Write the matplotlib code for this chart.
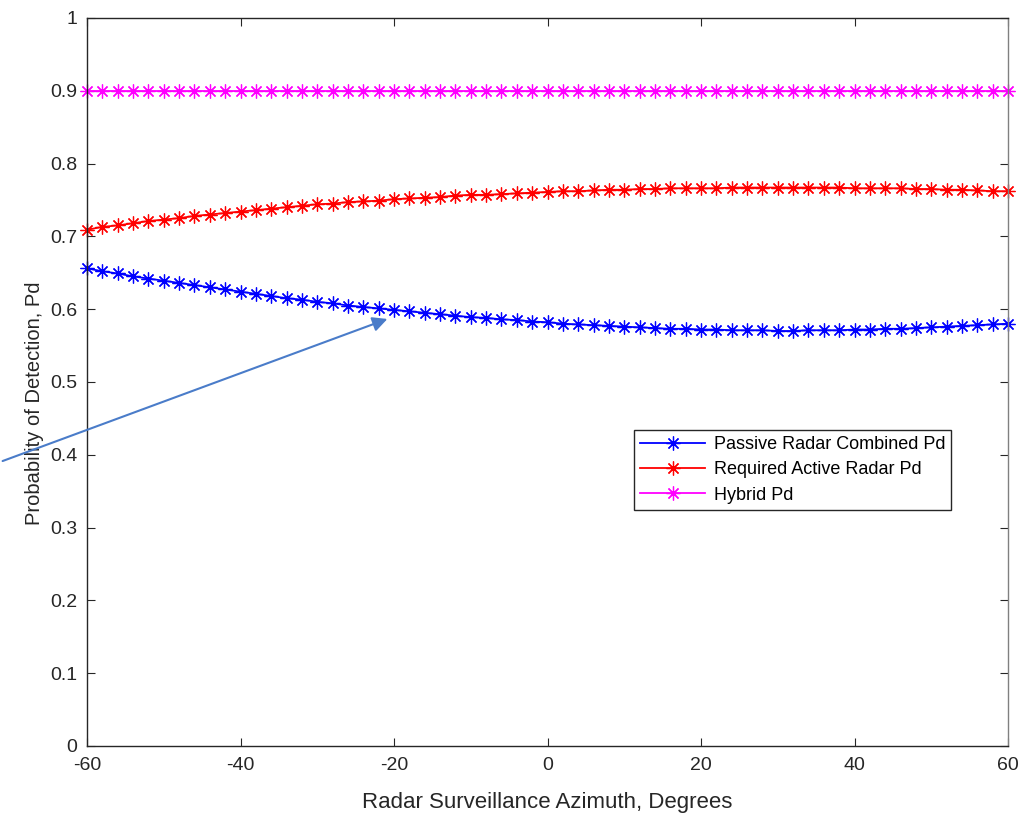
import numpy as np
import matplotlib
matplotlib.use("Agg")
from matplotlib import pyplot as plt

plt.rcParams['font.family'] = ['Liberation Sans', 'DejaVu Sans']
plt.rcParams['axes.unicode_minus'] = False

azimuth = list(range(-60, 61, 2))

passive_pd = [0.656, 0.652, 0.649, 0.645, 0.642, 0.639, 0.636, 0.633, 0.630, 0.627,
              0.624, 0.621, 0.618, 0.615, 0.613, 0.610, 0.608, 0.605, 0.603, 0.601,
              0.599, 0.597, 0.595, 0.593, 0.591, 0.589, 0.588, 0.586, 0.585, 0.583,
              0.582, 0.580, 0.579, 0.578, 0.577, 0.576, 0.575, 0.574, 0.573, 0.573,
              0.572, 0.572, 0.571, 0.571, 0.571, 0.570, 0.570, 0.571, 0.571, 0.571,
              0.572, 0.572, 0.573, 0.573, 0.574, 0.575, 0.576, 0.577, 0.578, 0.579,
              0.580]

active_pd = [0.709, 0.713, 0.715, 0.718, 0.721, 0.723, 0.725, 0.728, 0.730, 0.732,
             0.734, 0.736, 0.738, 0.740, 0.742, 0.744, 0.745, 0.747, 0.748, 0.749,
             0.751, 0.752, 0.753, 0.754, 0.756, 0.757, 0.757, 0.758, 0.759, 0.760,
             0.761, 0.762, 0.762, 0.763, 0.764, 0.764, 0.765, 0.765, 0.766, 0.766,
             0.766, 0.766, 0.767, 0.767, 0.767, 0.767, 0.767, 0.767, 0.767, 0.767,
             0.766, 0.766, 0.766, 0.766, 0.765, 0.765, 0.764, 0.764, 0.763, 0.762,
             0.762]

hybrid_pd = [0.9] * len(azimuth)

labels = ['Passive Radar Combined Pd', 'Required Active Radar Pd', 'Hybrid Pd']
colors = ['#0000ff', '#ff0000', '#ff00ff']

fig = plt.figure(figsize=(10.36, 8.15), dpi=100)
ax = fig.add_axes([0.084, 0.0847, 0.889, 0.8933])

star = (8, 2, 0)  # matlab-style '*': plus and cross together
for y, lab, c in zip([passive_pd, active_pd, hybrid_pd], labels, colors):
    ax.plot(azimuth, y, color=c, marker=star, markersize=10, markeredgewidth=0.9,
            linewidth=1.3, label=lab, clip_on=False)

ax.set_xlim(-60, 60)
ax.set_ylim(0, 1)
ax.set_xticks(range(-60, 61, 20))
ax.set_yticks(np.arange(0, 1.01, 0.1))
ax.set_yticklabels(['0', '0.1', '0.2', '0.3', '0.4', '0.5', '0.6', '0.7', '0.8', '0.9', '1'])
ax.tick_params(direction='in', top=True, right=True, length=6, width=0.8,
               labelsize=14, labelcolor='#262626', color='#262626')
ax.tick_params(axis='y', pad=7)
ax.tick_params(axis='x', pad=8)
for s in ax.spines.values():
    s.set_color('#262626')
    s.set_linewidth(1.0)
ax.spines['right'].set_color('#808080')

ax.set_xlabel('Radar Surveillance Azimuth, Degrees', fontsize=16, color='#262626', labelpad=13)
ax.set_ylabel('Probability of Detection, Pd', fontsize=14.5, color='#262626')
ax.yaxis.set_label_coords(-0.047, 0.471)

leg = ax.legend(loc='upper left', bbox_to_anchor=(0.594, 0.434), fontsize=13,
                fancybox=False, framealpha=1, edgecolor='#262626', borderaxespad=0,
                borderpad=0.35, labelspacing=0.45, handlelength=3.6, handletextpad=0.45)
leg.get_frame().set_linewidth(1.0)

# annotation arrow drawn on top of everything
fig.patches.append(matplotlib.patches.FancyArrowPatch(
    (0 / 1036, 1 - 462 / 815), (390 / 1036, 1 - 318 / 815),
    transform=fig.transFigure, arrowstyle='-|>', mutation_scale=22,
    color='#4a7cc9', linewidth=1.5, zorder=10))

fig.savefig('out.png', dpi=100, facecolor='white')
